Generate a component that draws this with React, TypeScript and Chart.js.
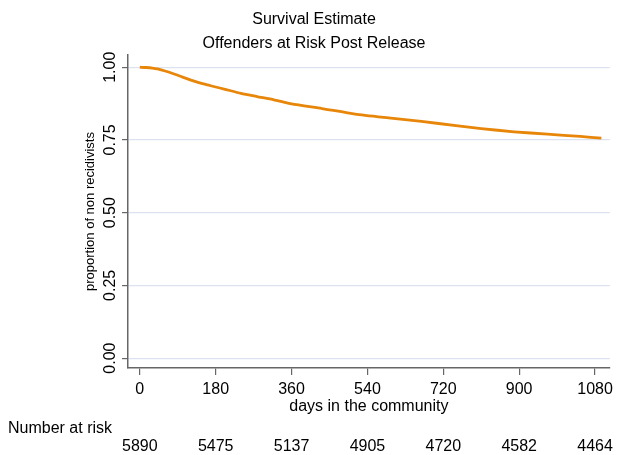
import React, { useEffect, useRef } from "react";
import { Chart, registerables } from "chart.js";

Chart.register(...registerables);

const titleLines = ["Survival Estimate", "Offenders at Risk Post Release"];
const xTitle = "days in the community";
const yTitle = "proportion of non recidivists";
const riskLabel = "Number at risk";

const days = [0, 15, 30, 42, 60, 83, 100, 123, 140, 161, 180, 200, 240, 278, 318, 360, 432, 511, 590, 668, 750, 810, 888, 967, 1045, 1095];
const survival = [1.0, 0.999, 0.997, 0.994, 0.987, 0.976, 0.967, 0.955, 0.947, 0.939, 0.932, 0.925, 0.91, 0.899, 0.888, 0.874, 0.858, 0.839, 0.826, 0.814, 0.799, 0.789, 0.778, 0.77, 0.762, 0.756];

const xTicks = [0, 180, 360, 540, 720, 900, 1080];
const yTicks = [0, 0.25, 0.5, 0.75, 1.0];
const atRisk = [5890, 5475, 5137, 4905, 4720, 4582, 4464];

const FONT = "'Liberation Sans', Arial, sans-serif";

const textPlugin = {
  id: "textPlugin",
  afterDraw(chart: any) {
    const ctx = chart.ctx;
    const xs = chart.scales.x;
    const ys = chart.scales.y;
    ctx.save();
    ctx.fillStyle = "#000";
    ctx.font = `16px ${FONT}`;
    ctx.textAlign = "center";
    ctx.textBaseline = "middle";
    ctx.fillText(titleLines[0], 314, 20);
    ctx.fillText(titleLines[1], 314, 44);
    yTicks.forEach((v) => {
      const py = ys.getPixelForValue(v);
      ctx.save();
      ctx.translate(111, py);
      ctx.rotate(-Math.PI / 2);
      ctx.font = `16px ${FONT}`;
      ctx.textAlign = "center";
      ctx.textBaseline = "middle";
      ctx.fillText(v.toFixed(2), 0, 0);
      ctx.restore();
    });
    ctx.save();
    ctx.translate(90, (chart.chartArea.top + chart.chartArea.bottom) / 2);
    ctx.rotate(-Math.PI / 2);
    ctx.font = `13px ${FONT}`;
    ctx.textAlign = "center";
    ctx.textBaseline = "middle";
    ctx.fillText(yTitle, 0, 0);
    ctx.restore();
    ctx.font = `16px ${FONT}`;
    ctx.textAlign = "center";
    ctx.fillText(xTitle, (chart.chartArea.left + chart.chartArea.right) / 2, 407);
    ctx.textAlign = "left";
    ctx.fillText(riskLabel, 8, 429);
    ctx.textAlign = "center";
    xTicks.forEach((d, i) => {
      ctx.fillText(String(atRisk[i]), xs.getPixelForValue(d), 447);
    });
    ctx.restore();
  },
};

export default function App() {
  const ref = useRef<HTMLCanvasElement>(null);
  useEffect(() => {
    const canvas = ref.current!;
    const chart = new Chart(canvas, {
      type: "line",
      data: {
        datasets: [
          {
            data: days.map((d, i) => ({ x: d, y: survival[i] })),
            borderColor: "#E8860A",
            borderWidth: 2.8,
            pointRadius: 0,
            tension: 0.2,
            fill: false,
          },
        ],
      },
      options: {
        animation: false,
        responsive: false,
        devicePixelRatio: 1,
        layout: { padding: { left: 0, top: 55, right: 5, bottom: 0 } },
        plugins: { legend: { display: false }, title: { display: false }, tooltip: { enabled: false } },
        scales: {
          x: {
            type: "linear",
            min: -28,
            max: 1115,
            afterBuildTicks: (s: any) => {
              s.ticks = xTicks.map((v) => ({ value: v }));
            },
            afterFit: (s: any) => {
              s.height = 87;
            },
            ticks: {
              color: "#000",
              font: { family: FONT, size: 16 },
              padding: 5,
              maxRotation: 0,
              callback: (v: any) => String(v),
            },
            grid: { drawOnChartArea: false, drawTicks: true, tickLength: 7, color: "#666", lineWidth: 1.2 },
            border: { display: true, color: "#666", width: 1.5 },
          },
          y: {
            type: "linear",
            min: -0.034,
            max: 1.042,
            afterBuildTicks: (s: any) => {
              s.ticks = yTicks.map((v) => ({ value: v }));
            },
            afterFit: (s: any) => {
              s.width = 128;
            },
            ticks: { display: false },
            grid: { color: "#DDE2F0", lineWidth: 1.2, tickColor: "#666", tickLength: 6, drawTicks: true },
            border: { display: true, color: "#666", width: 1.5 },
          },
        },
      },
      plugins: [textPlugin],
    } as any);
    return () => chart.destroy();
  }, []);
  return (
    <div style={{ position: "absolute", left: 0, top: 0, width: 618, height: 455, background: "#fff" }}>
      <canvas ref={ref} width={618} height={455} style={{ width: 618, height: 455 }} />
    </div>
  );
}
